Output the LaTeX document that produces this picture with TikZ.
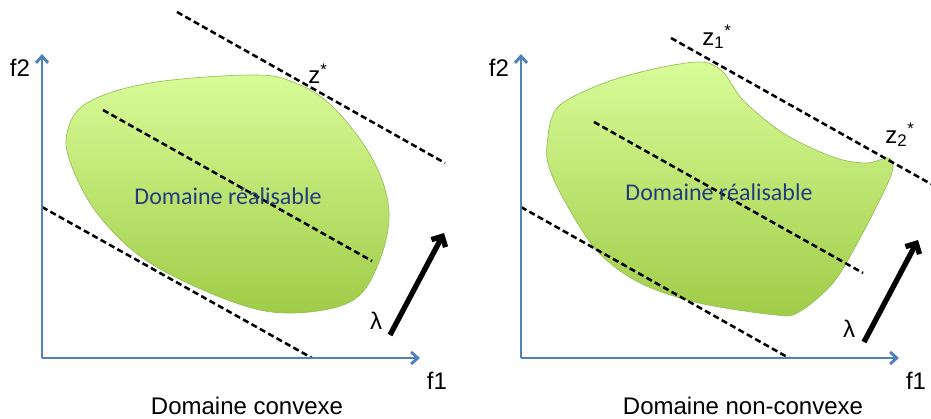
\documentclass[tikz,border=0pt]{standalone}
\usepackage{fontspec}
\setmainfont{Liberation Sans}
\newfontfamily\calfont{Carlito}
\usepackage{tikz}
\usetikzlibrary{arrows.meta}
\definecolor{axisblue}{RGB}{79,129,189}
\definecolor{blobtop}{RGB}{216,252,152}
\definecolor{blobbot}{RGB}{160,204,72}
\definecolor{blobline}{RGB}{150,190,90}
\definecolor{labelblue}{RGB}{36,60,125}
\tikzset{
  axis/.style={draw=axisblue, line width=2.2pt, -{Straight Barb[length=5pt,width=9pt]}},
  isoline/.style={draw=black, line width=1.9pt, dash pattern=on 4.6pt off 2.6pt},
  blob/.style={top color=blobtop, bottom color=blobbot, draw=blobline, line width=0.5pt},
  lam/.style={draw=black, line width=4pt, -{Straight Barb[length=6pt,width=12pt]}},
  lbl/.style={font=\fontsize{18}{21}\selectfont, inner sep=0pt},
  dom/.style={font=\calfont\fontsize{18}{21}\selectfont, text=labelblue, inner sep=0pt}
}
\begin{document}
\begin{tikzpicture}[x=0.75pt, y=-0.75pt]
  \useasboundingbox (0,0) rectangle (931,418);
  % convex domain
  \shade[blob] plot[smooth cycle, tension=0.6] coordinates {(67,133) (87,103) (150,83) (250,75) (293,82) (333,107)
    (373,160) (389,213) (377,267) (350,302) (290,313) (233,302) (150,263) (100,217) (72,167)};
  \draw[isoline] (177,12) -- (445,163);
  \draw[isoline] (103,110) -- (372,261);
  \draw[isoline] (42,207) -- (312,358);
  \draw[axis] (42,358) -- (42,54);
  \draw[axis] (42,358) -- (420,358);
  \draw[lam] (390,335) -- (444,233);
  \node[lbl] (f2a) at (20,68) {f2};
  \node[lbl] (f1a) at (437,381) {f1};
  \node[lbl] (zs) at (318,74) {z\textsuperscript{*}};
  \node[lbl] (lama) at (376,321) {λ};
  \node[dom] (doma) at (228,196) {Domaine réalisable};
  \node[lbl] (capa) at (247,406) {Domaine convexe};
  % non-convex domain
  \shade[blob] plot[smooth cycle, tension=0.55] coordinates {(547,145) (557,108) (599,85) (649,70) (699,62) (722,71)
    (743,100) (783,133) (833,157) (866,163) (888,158) (893,167) (886,187) (859,240) (833,283) (799,312)
    (776,315) (699,303) (640,283) (598,252) (568,207) (550,170)};
  \draw[isoline] (671,38) -- (931,184);
  \draw[isoline] (594,122) -- (863,273);
  \draw[isoline] (521,207) -- (789,358);
  \draw[axis] (521,358) -- (521,54);
  \draw[axis] (521,358) -- (899,358);
  \draw[lam] (864,342) -- (918,240);
  \node[lbl] (f2b) at (499,68) {f2};
  \node[lbl] (f1b) at (916,381) {f1};
  \node[lbl] (zsa) at (717,37) {z\textsubscript{1}\textsuperscript{*}};
  \node[lbl] (zsb) at (900,135) {z\textsubscript{2}\textsuperscript{*}};
  \node[lbl] (lamb) at (849,329) {λ};
  \node[dom] (domb) at (719,192) {Domaine réalisable};
  \node[lbl] (capb) at (743,406) {Domaine non-convexe};
\end{tikzpicture}
\end{document}
